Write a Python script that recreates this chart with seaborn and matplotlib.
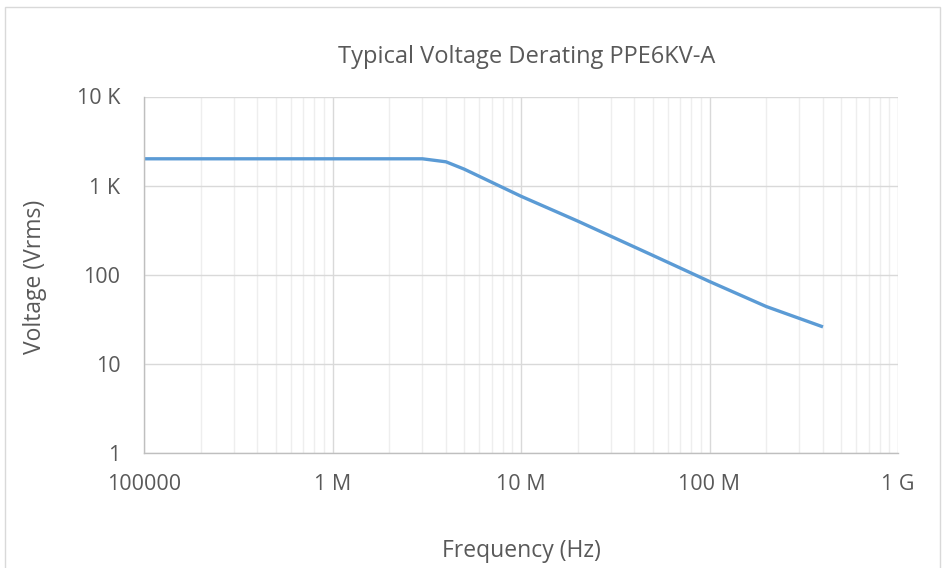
import matplotlib
matplotlib.use("Agg")
import matplotlib.pyplot as plt
import matplotlib.ticker as mticker
from matplotlib.patches import Rectangle
import seaborn as sns
import pandas as pd
import numpy as np

frequency_hz = [1e5, 1e6, 3e6, 4e6, 5e6, 1e7, 2e7, 5e7, 1e8, 2e8, 4e8]
voltage_vrms = [2000, 2000, 2000, 1850, 1530, 760, 400, 165, 84, 44, 26]
x_ticks = [1e5, 1e6, 1e7, 1e8, 1e9]
x_labels = ["100000", "1 M", "10 M", "100 M", "1 G"]
y_ticks = [1, 10, 100, 1000, 10000]
y_labels = ["1", "10", "100", "1 K", "10 K"]

sns.set_style("white")
plt.rcParams['font.family'] = ['Open Sans', 'DejaVu Sans']
txt = "#595959"

df = pd.DataFrame({"Frequency (Hz)": frequency_hz, "Voltage (Vrms)": voltage_vrms})

fig = plt.figure(figsize=(9.43, 5.68), dpi=100)
ax = fig.add_axes([144/943, 1-453/568, (898-144)/943, (453-96.5)/568])

sns.lineplot(data=df, x="Frequency (Hz)", y="Voltage (Vrms)", ax=ax,
             color="#5B9BD5", linewidth=2.4, solid_capstyle="butt")
ax.set_xscale("log")
ax.set_yscale("log")
ax.set_xlim(1e5, 1e9)
ax.set_ylim(1, 1e4)

ax.xaxis.set_major_locator(mticker.FixedLocator(x_ticks))
ax.xaxis.set_major_formatter(mticker.FixedFormatter(x_labels))
ax.xaxis.set_minor_locator(mticker.LogLocator(base=10, subs=np.arange(2, 10)))
ax.xaxis.set_minor_formatter(mticker.NullFormatter())
ax.yaxis.set_major_locator(mticker.FixedLocator(y_ticks))
ax.yaxis.set_major_formatter(mticker.FixedFormatter(y_labels))
ax.yaxis.set_minor_locator(mticker.NullLocator())

ax.grid(which="major", color="#d9d9d9", linewidth=1.0)
ax.grid(which="minor", axis="x", color="#eeeeee", linewidth=1.0)
ax.set_axisbelow(True)
ax.tick_params(which="both", length=0, labelsize=15.5, colors=txt)
ax.tick_params(axis="x", pad=15)
ax.tick_params(axis="y", pad=17)

for s in ["top", "right"]:
    ax.spines[s].set_visible(False)
for s in ["left", "bottom"]:
    ax.spines[s].set_color("#bfbfbf")
    ax.spines[s].set_linewidth(1.0)

ax.set_xlabel("")
ax.set_ylabel("")
fig.text(521/943, 1-557/568, "Frequency (Hz)", ha="center", va="baseline", fontsize=16.5, color=txt)
fig.text(35/943, 1-277/568, "Voltage (Vrms)", ha="center", va="center", rotation=90, fontsize=16.5, color=txt)
fig.text(527/943, 1-63/568, "Typical Voltage Derating PPE6KV-A", ha="center", va="baseline", fontsize=17, color=txt)

fig.patches.append(Rectangle((5/943, -0.05), (940-5)/943, 1-7/568+0.05, transform=fig.transFigure,
                             fill=False, edgecolor="#d9d9d9", linewidth=1.0, clip_on=False))

fig.savefig("out.png", dpi=100, facecolor="white")
